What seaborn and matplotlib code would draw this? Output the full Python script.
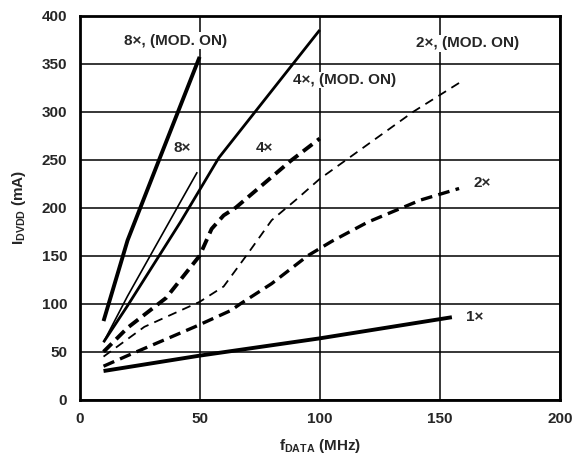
import matplotlib
matplotlib.use("Agg")
import matplotlib.pyplot as plt
import seaborn as sns
import pandas as pd

# ---- data ----
x_8x_mod = [10, 20, 33, 50]
y_8x_mod = [82, 166, 249, 357]

x_8x = [10, 20, 42, 49]
y_8x = [60, 108, 206, 237]

x_4x_mod = [10, 20, 42, 58, 100]
y_4x_mod = [60, 98, 185, 252, 385]

x_4x = [10, 20, 36, 50, 55, 60, 65, 88, 100]
y_4x = [50, 75, 106, 150, 178, 192, 200, 249, 272]

x_2x_mod = [10, 27, 50, 60, 70, 80, 90, 100, 139, 160]
y_2x_mod = [45, 76, 102, 118, 152, 187, 208, 230, 300, 333]

x_2x = [10, 20, 48, 63, 67, 80, 95, 105, 120, 142, 158]
y_2x = [35, 46, 76, 93, 100, 121, 150, 165, 185, 208, 220]

x_1x = [10, 50, 100, 155]
y_1x = [30, 46, 64, 86]

x_ticks = [0, 50, 100, 150, 200]
y_ticks = [0, 50, 100, 150, 200, 250, 300, 350, 400]

labels = ["8×, (MOD. ON)", "8×", "4×, (MOD. ON)", "4×", "2×, (MOD. ON)", "2×", "1×"]
label_x = [18.5, 39, 89, 73.5, 140, 164, 161]
label_y = [374, 262, 333, 262, 371, 226, 86]

sns.set_theme(style="white")
plt.rcParams['font.family'] = ['Liberation Sans', 'DejaVu Sans']
plt.rcParams['mathtext.fontset'] = 'custom'
plt.rcParams['mathtext.rm'] = 'Liberation Sans:bold'
plt.rcParams['mathtext.bf'] = 'Liberation Sans:bold'
plt.rcParams['mathtext.it'] = 'Liberation Sans:bold'

fig = plt.figure(figsize=(5.72, 4.58), dpi=100)
ax = fig.add_axes([0.139, 0.127, 0.840, 0.839])

series = [
    (x_8x_mod, y_8x_mod, 2.8, None),
    (x_8x, y_8x, 1.2, None),
    (x_4x_mod, y_4x_mod, 2.0, None),
    (x_4x, y_4x, 2.8, (3.0, 1.6)),
    (x_2x_mod, y_2x_mod, 1.3, (5.0, 3.5)),
    (x_2x, y_2x, 2.4, (3.5, 1.9)),
    (x_1x, y_1x, 2.8, None),
]
for xs, ys, lw, dash in series:
    df = pd.DataFrame({"x": xs, "y": ys})
    sns.lineplot(data=df, x="x", y="y", ax=ax, color="black", linewidth=lw,
                 sort=False, estimator=None)
    line = ax.lines[-1]
    if dash is not None:
        line.set_dashes(dash)
    line.set_solid_capstyle('butt')
    line.set_dash_capstyle('butt')

ax.set_xlim(0, 200)
ax.set_ylim(0, 400)
ax.set_xticks(x_ticks)
ax.set_yticks(y_ticks)
ax.set_xticklabels([str(t) for t in x_ticks], fontweight='bold', fontsize=11)
ax.set_yticklabels([str(t) for t in y_ticks], fontweight='bold', fontsize=11)
ax.tick_params(axis='x', length=0, pad=9)
ax.tick_params(axis='y', length=0, pad=9)
ax.grid(True, color='black', linewidth=1.1)
ax.set_axisbelow(True)
for s in ax.spines.values():
    s.set_color('black')
    s.set_linewidth(2.0)

ax.set_xlabel(r"$\mathrm{f_{DATA}}$ (MHz)", fontweight='bold', fontsize=11, labelpad=8)
ax.set_ylabel(r"$\mathrm{I_{DVDD}}$ (mA)", fontweight='bold', fontsize=11, labelpad=10)

for t, lx, ly in zip(labels, label_x, label_y):
    ax.text(lx, ly, t, fontsize=11, fontweight='bold', ha='left', va='center',
            bbox=dict(facecolor='white', edgecolor='none', pad=1) if "MOD" in t or t == "2×" else None)

fig.savefig("out.png", dpi=100)
